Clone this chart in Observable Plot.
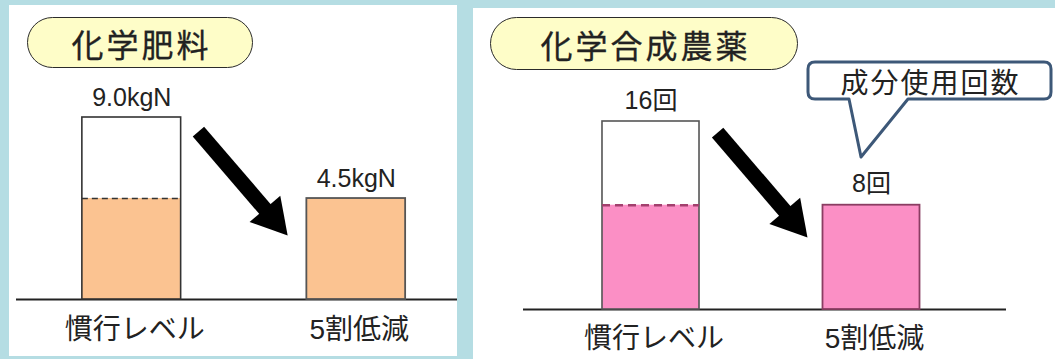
<!DOCTYPE html>
<html><head><meta charset="utf-8">
<script src="https://cdn.jsdelivr.net/npm/d3@7"></script>
<script src="https://cdn.jsdelivr.net/npm/@observablehq/plot@0.6"></script>
<style>
html,body{margin:0;padding:0}
body{width:1055px;height:359px;background:#b5dde3;position:relative;overflow:hidden;font-family:"Liberation Sans","Noto Sans CJK JP",sans-serif}
.panel{position:absolute;background:#fff;overflow:hidden}
.panel svg{position:absolute;left:0;top:0}
.pill{position:absolute;box-sizing:border-box;border:1.5px solid #2b2b2b;border-radius:30px;background:#fefdc8;display:flex;align-items:center;justify-content:center;font-family:"Noto Sans CJK JP",sans-serif;font-size:32px;letter-spacing:3px;padding-left:3px;color:#222;z-index:2;-webkit-text-stroke:0.3px #222}
.callout-shape{position:absolute;overflow:visible;z-index:2}
.callout-text{position:absolute;display:flex;align-items:center;justify-content:center;font-family:"Noto Sans CJK JP",sans-serif;font-size:28px;letter-spacing:2px;padding-left:2px;box-sizing:border-box;color:#222;z-index:3}
</style></head>
<body>
<div id="p1" class="panel" style="left:9px;top:5px;width:448px;height:351px"></div>
<div id="p2" class="panel" style="left:473px;top:8px;width:582px;height:351px"></div>
<script>
// ---- data ----
const categories = ["慣行レベル", "5割低減"];
const fertValues = [9.0, 4.5];
const fertLabels = ["9.0kgN", "4.5kgN"];
const fertTarget = 4.5;
const pestValues = [16, 8];
const pestLabels = ["16回", "8回"];
const pestTarget = 8;
const titles = ["化学肥料", "化学合成農薬"];
const calloutText = "成分使用回数";
// arrow annotations, in data units (x: category index, y: value)
const fertArrow = [{x1: 0.297, y1: 8.19, x2: 0.607, y2: 3.77, hx: 0.627, hy: 3.51}];
const pestArrow = [{x1: 0.302, y1: 14.9, x2: 0.620, y2: 7.18, hx: 0.641, hy: 6.70}];

const FONT = "Liberation Sans, Noto Sans CJK JP, sans-serif";
const HW = 0.22; // half bar width in category units

function panel(cfg) {
  const rows = categories.map((c, i) => ({i, cat: c, value: cfg.values[i], label: cfg.labels[i],
    fillTop: i === 0 ? cfg.target : cfg.values[i]}));
  return Plot.plot({
    width: cfg.width, height: cfg.height,
    marginLeft: cfg.mL, marginRight: cfg.mR, marginTop: 0, marginBottom: cfg.height - cfg.base,
    style: {background: "transparent", fontFamily: FONT, overflow: "visible"},
    x: {type: "linear", domain: [-0.5, 1.5], range: cfg.xRange, axis: null},
    y: {type: "pow", exponent: 0.85, domain: [0, cfg.values[0]], range: [cfg.base, cfg.top], axis: null},
    marks: [
      Plot.ruleY([0], {stroke: "#222", strokeWidth: 1.8}),
      // coloured part of each bar
      Plot.rect(rows, {x1: d => d.i - HW, x2: d => d.i + HW, y1: d => 0, y2: "fillTop",
        fill: cfg.color, stroke: d => d.i === 1 ? cfg.stroke2 : "none", strokeWidth: 1.8}),
      // full conventional bar outline
      Plot.rect(rows.filter(d => d.i === 0), {x1: d => d.i - HW, x2: d => d.i + HW, y1: d => 0, y2: "value",
        fill: "none", stroke: cfg.stroke1, strokeWidth: 1.6}),
      // dashed reduced level
      Plot.ruleY(rows.filter(d => d.i === 0), {y: "fillTop", x1: d => d.i - HW, x2: d => d.i + HW,
        stroke: cfg.dash, strokeWidth: cfg.dashW, strokeDasharray: cfg.dashA}),
      // value labels
      Plot.text(rows, {x: "i", y: "value", text: "label", dy: cfg.labelDy, fontSize: 25, fill: "#222", fontFamily: FONT}),
      // category labels
      Plot.text(rows, {x: "i", y: d => 0, text: "cat", dy: cfg.catDy, dx: 3, fontSize: 28, fill: "#222", fontFamily: FONT}),
      // arrow
      Plot.link(cfg.arrow, {x1: "x1", y1: "y1", x2: "x2", y2: "y2", stroke: "#000", strokeWidth: 15, strokeLinecap: "butt"}),
      Plot.dot(cfg.arrow, {x: "hx", y: "hy", symbol: "triangle", r: 15, rotate: 139.5, fill: "#000", stroke: "none"})
    ]
  });
}

const p1 = document.getElementById("p1");
p1.append(panel({width: 448, height: 351, mL: 7, mR: 0, base: 294, top: 112, xRange: [10, 459],
  values: fertValues, labels: fertLabels, target: fertTarget, arrow: fertArrow,
  color: "#fbc391", stroke1: "#333", stroke2: "#555", dash: "#333", dashW: 1.6, dashA: "6,4",
  labelDy: -19.5, catDy: 31}));
const t1 = document.createElement("div");
t1.className = "pill"; t1.textContent = titles[0];
Object.assign(t1.style, {left: "18px", top: "12px", width: "226px", height: "51px"});
p1.append(t1);

const p2 = document.getElementById("p2");
p2.append(panel({width: 582, height: 351, mL: 50, mR: 49, base: 301, top: 113, xRange: [67.25, 508.25],
  values: pestValues, labels: pestLabels, target: pestTarget, arrow: pestArrow,
  color: "#fb8fc5", stroke1: "#555", stroke2: "#8a3d62", dash: "#a3406e", dashW: 2.5, dashA: "8,5",
  labelDy: -21, catDy: 29.5}));
const t2 = document.createElement("div");
t2.className = "pill"; t2.textContent = titles[1];
Object.assign(t2.style, {left: "17px", top: "9px", width: "308px", height: "53px"});
p2.append(t2);

// callout bubble
const ns = "http://www.w3.org/2000/svg";
const cs = document.createElementNS(ns, "svg");
cs.setAttribute("class", "callout-shape");
cs.setAttribute("width", "248"); cs.setAttribute("height", "100");
cs.style.left = "333px"; cs.style.top = "52px";
const path = document.createElementNS(ns, "path");
path.setAttribute("d", "M9,2 H238 Q245,2 245,9 V32 Q245,39 238,39 H102 L55,97 L43,39 H9 Q2,39 2,32 V9 Q2,2 9,2 Z");
path.setAttribute("fill", "#fff"); path.setAttribute("stroke", "#3d5878");
path.setAttribute("stroke-width", "3"); path.setAttribute("stroke-linejoin", "round");
cs.append(path);
p2.append(cs);
const ct = document.createElement("div");
ct.className = "callout-text"; ct.textContent = calloutText;
Object.assign(ct.style, {left: "335px", top: "54px", width: "243px", height: "37px"});
p2.append(ct);
</script>
</body></html>
